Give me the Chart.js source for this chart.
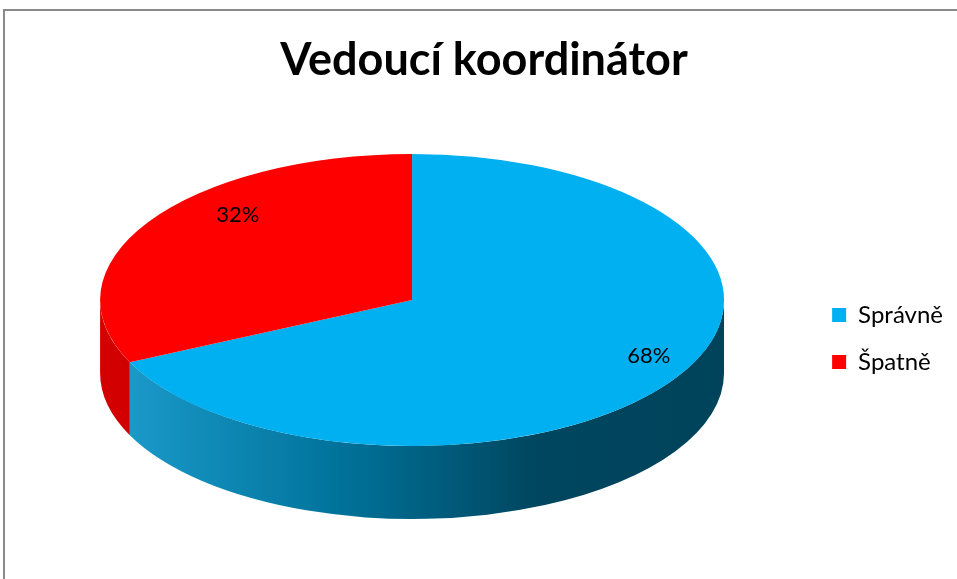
<!DOCTYPE html>
<html>
<head>
<meta charset="utf-8">
<script src="https://cdn.jsdelivr.net/npm/chart.js@4.4.1/dist/chart.umd.min.js"></script>
<style>
  html, body { margin: 0; padding: 0; background: #fff; }
  canvas { display: block; }
</style>
</head>
<body>
<canvas id="pieChart" width="957" height="579"></canvas>
<script>
// data
const chartTitle = 'Vedoucí koordinátor';
const categories = ['Správně', 'Špatně'];
const shares = [68, 32];
const topColors = ['#00B0F0', '#FF0000'];
// side wall shading, left -> right
const sideStops = [
  [[0, '#1e9ecf'], [0.38, '#00739b'], [0.56, '#005a7a'], [0.7, '#00465f'], [1, '#00435b']],
  [[0, '#d40000'], [1, '#9a0000']]
];

// fake 3d look
const tilt = 0.468;       // vertical squash of the top face
const depthRatio = 0.5;   // wall height relative to vertical radius
// label spot: fraction of radius + small nudge that mimics excel's perspective
const labelFx = 0.78, labelFy = 0.9, labelShiftX = 0.1, labelShiftY = -0.1;

const pie3d = {
  id: 'pie3d',
  beforeDraw(chart) {
    const ctx = chart.ctx;
    ctx.save();
    ctx.strokeStyle = '#8a8a8a';
    ctx.lineWidth = 2;
    ctx.beginPath();
    ctx.moveTo(4, chart.height + 5);
    ctx.lineTo(4, 10);
    ctx.lineTo(chart.width + 5, 10);
    ctx.stroke();
    ctx.restore();
  },
  beforeDatasetsDraw(chart) {
    const ctx = chart.ctx;
    const arcs = chart.getDatasetMeta(0).data;
    const cx = arcs[0].x, cy = arcs[0].y, ry = arcs[0].outerRadius;
    const rx = ry / tilt, depth = ry * depthRatio;
    arcs.forEach((arc, i) => {
      [[0, Math.PI], [2 * Math.PI, 3 * Math.PI]].forEach(([lo, hi]) => {
        const s = Math.max(arc.startAngle, lo), e = Math.min(arc.endAngle, hi);
        if (e <= s) return;
        const g = ctx.createLinearGradient(cx - rx, 0, cx + rx, 0);
        sideStops[i].forEach(([t, c]) => g.addColorStop(t, c));
        ctx.beginPath();
        ctx.ellipse(cx, cy, rx, ry, 0, s, e);
        ctx.ellipse(cx, cy + depth, rx, ry, 0, e, s, true);
        ctx.closePath();
        ctx.fillStyle = g;
        ctx.fill();
      });
    });
    // stretch the round pie into the ellipse of the top face
    ctx.save();
    ctx.translate(cx, cy);
    ctx.scale(1 / tilt, 1);
    ctx.translate(-cx, -cy);
  },
  afterDatasetsDraw(chart) {
    const ctx = chart.ctx;
    ctx.restore();
    const arcs = chart.getDatasetMeta(0).data;
    ctx.save();
    ctx.font = '22px Lato';
    ctx.fillStyle = '#000';
    ctx.textAlign = 'center';
    ctx.textBaseline = 'middle';
    arcs.forEach((arc, i) => {
      const mid = (arc.startAngle + arc.endAngle) / 2;
      const ry = arc.outerRadius, rx = ry / tilt;
      const x = arc.x + rx * (Math.cos(mid) * labelFx + labelShiftX);
      const y = arc.y + ry * (Math.sin(mid) * labelFy + labelShiftY);
      ctx.fillText(shares[i] + '%', x, y);
    });
    ctx.restore();
  }
};

const ctx = document.getElementById('pieChart').getContext('2d');
new Chart(ctx, {
  type: 'pie',
  data: {
    labels: categories,
    datasets: [{
      data: shares,
      backgroundColor: topColors,
      borderWidth: 0,
      hoverOffset: 0,
      offset: 0
    }]
  },
  options: {
    responsive: false,
    animation: false,
    events: [],
    layout: { padding: { left: 15, right: 4, top: 0, bottom: 133 } },
    plugins: {
      title: {
        display: true,
        text: chartTitle,
        color: '#000',
        font: { family: 'Lato', size: 45, weight: 'bold' },
        padding: { top: 33, bottom: 67 }
      },
      legend: {
        position: 'right',
        fullSize: false,
        title: { display: true, text: '', font: { size: 10 }, padding: { top: 0, bottom: 65 } },
        labels: {
          color: '#000',
          font: { family: 'Lato', size: 24 },
          boxWidth: 14,
          boxHeight: 14,
          padding: 23
        }
      },
      tooltip: { enabled: false }
    }
  },
  plugins: [pie3d]
});
</script>
</body>
</html>
